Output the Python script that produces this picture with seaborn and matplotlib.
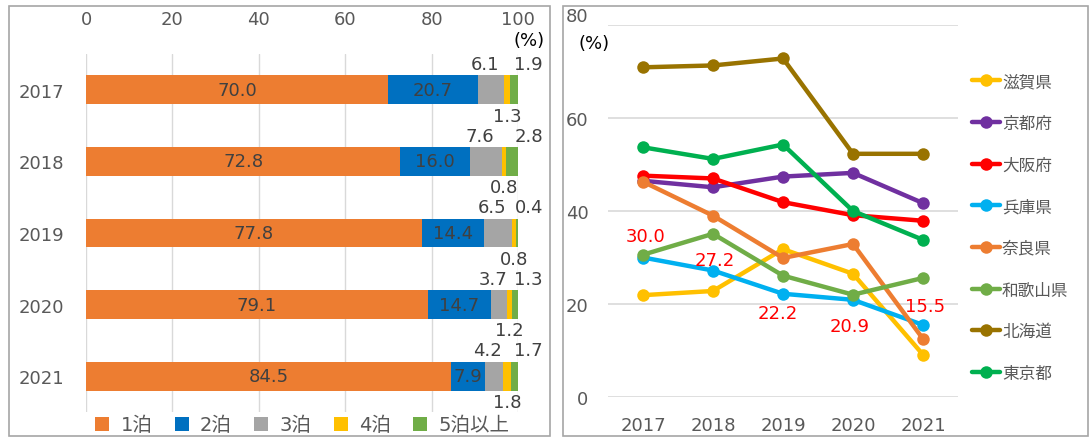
import numpy as np
import pandas as pd
import matplotlib
matplotlib.use('Agg')
import matplotlib.pyplot as plt
import seaborn as sns
from matplotlib.patches import Rectangle
from matplotlib.lines import Line2D

# ---------------- data ----------------
years = ['2017', '2018', '2019', '2020', '2021']
stay_labels = ['1泊', '2泊', '3泊', '4泊', '5泊以上']
stay1 = [70.0, 72.8, 77.8, 79.1, 84.5]
stay2 = [20.7, 16.0, 14.4, 14.7, 7.9]
stay3 = [6.1, 7.6, 6.5, 3.7, 4.2]
stay4 = [1.3, 0.8, 0.8, 1.2, 1.8]
stay5 = [1.9, 2.8, 0.4, 1.3, 1.7]
bar_colors = ['#ED7D31', '#0070C0', '#A5A5A5', '#FFC000', '#70AD47']

prefs = ['滋賀県', '京都府', '大阪府', '兵庫県', '奈良県', '和歌山県', '北海道', '東京都']
shiga = [21.9, 22.8, 31.8, 26.5, 9.1]
kyoto = [46.5, 45.1, 47.4, 48.2, 41.7]
osaka = [47.6, 47.0, 41.9, 39.1, 37.9]
hyogo = [30.0, 27.2, 22.2, 20.9, 15.5]
nara = [46.3, 39.0, 29.9, 32.9, 12.5]
wakayama = [30.6, 35.1, 26.1, 22.0, 25.6]
hokkaido = [70.9, 71.3, 72.8, 52.3, 52.3]
tokyo = [53.7, 51.2, 54.3, 40.0, 33.8]
line_colors = ['#FFC000', '#7030A0', '#FF0000', '#00B0F0', '#ED7D31', '#70AD47', '#997300', '#00B050']

sns.set_theme(style='white')
plt.rcParams['font.family'] = ['DejaVu Sans', 'Noto Sans CJK JP']

W, H = 1091, 439
fig = plt.figure(figsize=(W / 100, H / 100), dpi=100)

def fx(px):
    return px / W

def fy(py):
    return 1 - py / H

# panel borders
for (x0, x1) in [(9, 550), (563, 1088)]:
    fig.patches.append(Rectangle((fx(x0), fy(437)), fx(x1 - x0), (437 - 7) / H,
                                 transform=fig.transFigure, fill=False,
                                 edgecolor='#A6A6A6', linewidth=1.2))

tick_color = '#595959'
fs = 13

# ---------------- left: stacked bars ----------------
axL = fig.add_axes([fx(86), fy(413), fx(518 - 86), 358 / H])
stacks = [stay1, stay2, stay3, stay4, stay5]
cum = np.cumsum(np.array(stacks), axis=0)
df_bar = pd.DataFrame({'year': years})
for k in range(5):
    df_bar[f'c{k}'] = cum[k]
for k in range(4, -1, -1):
    sns.barplot(data=df_bar, x=f'c{k}', y='year', orient='h', color=bar_colors[k],
                width=0.405, ax=axL, saturation=1, linewidth=0, zorder=2)
axL.set_xlim(0, 100)
axL.set_ylim(4.5, -0.5)
axL.xaxis.tick_top()
axL.set_xticks([0, 20, 40, 60, 80, 100])
axL.tick_params(axis='x', length=0, pad=19, labelsize=fs, labelcolor=tick_color)
axL.tick_params(axis='y', length=0, pad=16, labelsize=fs, labelcolor=tick_color)
axL.set_xlabel('')
axL.set_ylabel('')
axL.grid(axis='x', color='#D9D9D9', linewidth=1)
axL.grid(axis='y', visible=False)
axL.set_axisbelow(True)
for s in axL.spines.values():
    s.set_visible(False)

lab_col = '#404040'
for i in range(5):
    v = [stacks[k][i] for k in range(5)]
    c = [cum[k][i] for k in range(5)]
    axL.text(c[0] - v[0] / 2, i, f'{v[0]:.1f}', ha='center', va='center', fontsize=fs, color=lab_col, zorder=5)
    axL.text(c[1] - v[1] / 2, i, f'{v[1]:.1f}', ha='center', va='center', fontsize=fs, color=lab_col, zorder=5)
    axL.text(c[2] - v[2] / 2 - 1.5, i - 0.36, f'{v[2]:.1f}', ha='center', va='center', fontsize=fs, color=lab_col)
    axL.text(c[3] - v[3] / 2, i + 0.36, f'{v[3]:.1f}', ha='center', va='center', fontsize=fs, color=lab_col)
    axL.text(102.5, i - 0.36, f'{v[4]:.1f}', ha='center', va='center', fontsize=fs, color=lab_col)

fig.text(fx(529), fy(41), '(%)', ha='center', va='center', fontsize=fs, color='black')

handlesL = [Line2D([], [], linestyle='none', marker='s', markersize=10,
                   markerfacecolor=bar_colors[k], markeredgewidth=0) for k in range(5)]
fig.legend(handlesL, stay_labels,
           loc='center', bbox_to_anchor=(fx(301), fy(426)), ncol=5, frameon=False,
           fontsize=14, handletextpad=0.45, columnspacing=1.0, labelcolor=tick_color,
           borderpad=0, handlelength=1.0)

# ---------------- right: lines ----------------
axR = fig.add_axes([fx(608), fy(398), fx(350), 372 / H])
series = [shiga, kyoto, osaka, hyogo, nara, wakayama, hokkaido, tokyo]
rows = []
for p, vals in zip(prefs, series):
    for y, v in zip(years, vals):
        rows.append({'year': y, 'pref': p, 'value': v})
df_line = pd.DataFrame(rows)
sns.lineplot(data=df_line, x='year', y='value', hue='pref', hue_order=prefs,
             palette=line_colors, marker='o', markersize=9, markeredgewidth=0,
             linewidth=3.2, sort=False, ax=axR, legend=False)
axR.set_xlim(-0.5, 4.5)
axR.set_ylim(0, 80)
axR.set_yticks([0, 20, 40, 60, 80])
axR.tick_params(axis='y', length=0, pad=14, labelsize=fs, labelcolor=tick_color)
axR.tick_params(axis='x', length=0, pad=14, labelsize=fs, labelcolor=tick_color)
axR.set_xlabel('')
axR.set_ylabel('')
axR.grid(axis='y', color='#D9D9D9', linewidth=1.2)
axR.grid(axis='x', visible=False)
axR.set_axisbelow(True)
for s in axR.spines.values():
    s.set_visible(False)
# the top tick label sits a little above its grid line, as in the original
axR.get_yticklabels()[-1].set_va('bottom')

offsets = [(0.03, 4.6), (0.03, 2.3), (-0.07, -4.2), (-0.05, -5.6), (0.03, 4.0)]
for i, (v, (dx, dy)) in enumerate(zip(hyogo, offsets)):
    axR.text(i + dx, v + dy, f'{v:.1f}', ha='center', va='center', fontsize=fs, color='#FF0000')

fig.text(fx(594), fy(44), '(%)', ha='center', va='center', fontsize=fs, color='black')

handlesR = [Line2D([], [], color=c, linewidth=3.2, marker='o', markersize=9, markeredgewidth=0)
            for c in line_colors]
fig.legend(handlesR, prefs, loc='center left', bbox_to_anchor=(fx(972), fy(228)),
           frameon=False, fontsize=12, labelcolor=tick_color, handlelength=1.7,
           handletextpad=0.1, labelspacing=1.42, borderpad=0, borderaxespad=0)

fig.savefig('out.png', dpi=100)
